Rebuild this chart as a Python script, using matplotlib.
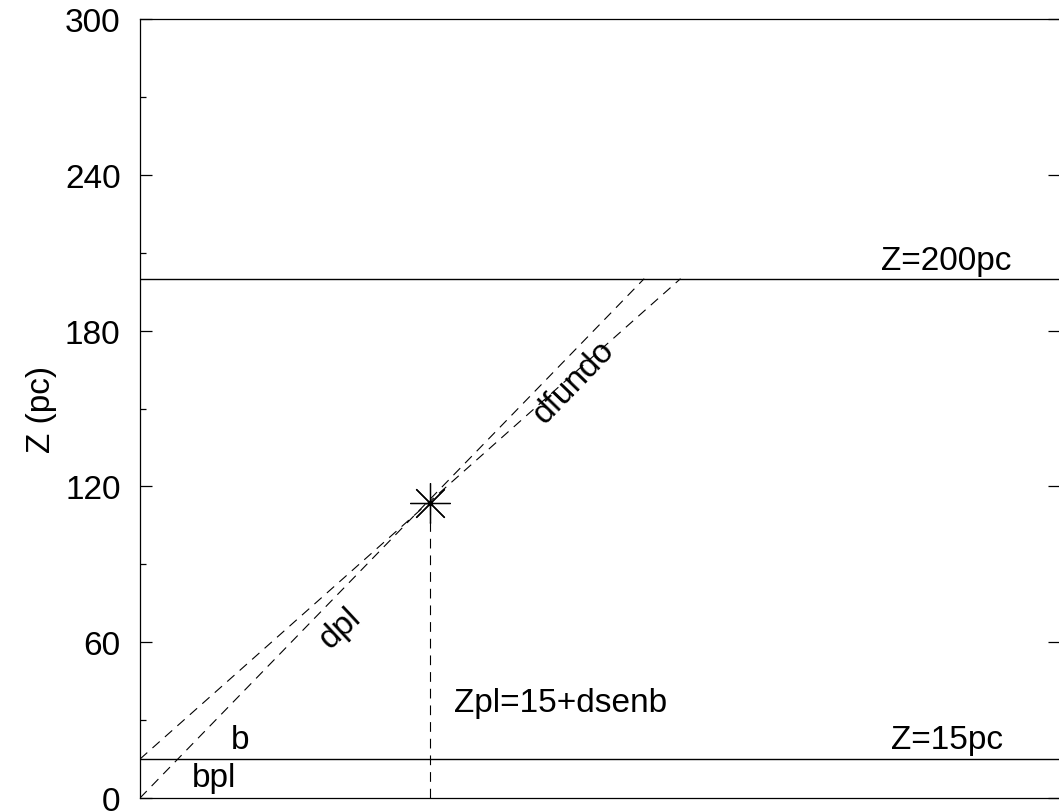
import matplotlib
matplotlib.use("Agg")
import matplotlib.pyplot as plt

# Geometry of the line of sight towards the source (distances in pc)
# x is the projected distance along the plane, z the height
z_ticks = [0, 60, 120, 180, 240, 300]
z_minor = [30, 90, 150, 210, 270]

z_disk = 15        # Z=15pc
z_top = 200        # Z=200pc

# line of sight measured from the plane level (dpl -> dfundo)
los_x = [0, 208]
los_z = [15, 200]

# line of sight measured from Z=0 (bpl)
los_pl_x = [0, 194]
los_pl_z = [0, 200]

# source position
src_x = 111.7
src_z = 113.5

x_max = 354

plt.rcParams["font.family"] = ["Liberation Sans", "DejaVu Sans"]
plt.rcParams["lines.scale_dashes"] = False

fig = plt.figure(figsize=(10.59, 8.12), dpi=100)
ax = fig.add_axes([140 / 1059, 13 / 812, 920 / 1059, 779 / 812])

dash = (0, (7, 5))
ax.plot(los_x, los_z, color="black", lw=0.8, linestyle=dash)
ax.plot(los_pl_x, los_pl_z, color="black", lw=0.8, linestyle=dash)
ax.plot([src_x, src_x], [0, src_z], color="black", lw=0.8, linestyle=dash)

ax.axhline(z_disk, color="black", lw=1.0)
ax.axhline(z_top, color="black", lw=1.0)

ax.plot([src_x], [src_z], marker=(8, 2, 0), markersize=29, color="black",
        markeredgewidth=0.9)
ax.plot([src_x], [src_z], marker="o", markersize=3, color="black")

fs = 24
ax.text(285, z_top + 1.2, "Z=200pc", fontsize=fs, ha="left", va="bottom")
ax.text(289, z_disk + 1.6, "Z=15pc", fontsize=fs, ha="left", va="bottom")
ax.text(35, z_disk + 1.6, "b", fontsize=fs, ha="left", va="bottom")
ax.text(20, 1.8, "bpl", fontsize=fs, ha="left", va="bottom")
ax.text(121, 31, "Zpl=15+dsenb", fontsize=fs, ha="left", va="bottom")
ax.text(77, 65.5, "dpl", fontsize=fs, ha="center", va="center", rotation=43)
ax.text(167, 160.5, "dfundo", fontsize=fs, ha="center", va="center", rotation=46)

ax.set_xlim(0, x_max)
ax.set_ylim(0, 300)
ax.set_yticks(z_ticks)
ax.set_yticklabels([str(v) for v in z_ticks], fontsize=fs)
ax.set_yticks(z_minor, minor=True)
ax.set_xticks([])
ax.tick_params(axis="y", which="major", direction="in", length=8.5,
               width=0.9, pad=14, right=True)
ax.tick_params(axis="y", which="minor", direction="in", length=4.5,
               width=0.9, right=False)
ax.set_ylabel("Z (pc)", fontsize=fs, labelpad=6)

for s in ax.spines.values():
    s.set_linewidth(0.9)

fig.savefig("out.png", dpi=100)
